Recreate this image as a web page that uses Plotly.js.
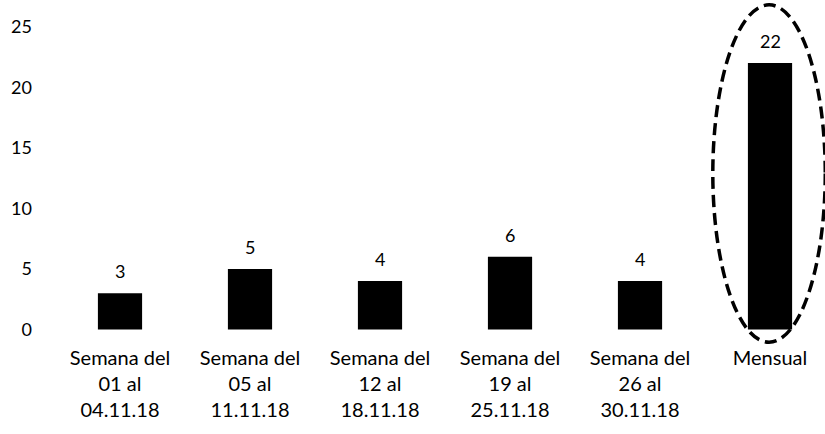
<!DOCTYPE html>
<html>
<head>
<meta charset="utf-8">
<script src="https://cdn.plot.ly/plotly-3.0.1.min.js"></script>
<style>html,body{margin:0;padding:0;background:#fff;}#chart{width:825px;height:434px;}</style>
</head>
<body>
<div id="chart"></div>
<script>
const categories = ["Semana del<br>01 al<br>04.11.18", "Semana del<br>05 al<br>11.11.18", "Semana del<br>12 al<br>18.11.18", "Semana del<br>19 al<br>25.11.18", "Semana del<br>26 al<br>30.11.18", "Mensual"];
const values = [3, 5, 4, 6, 4, 22];
const yTicks = [0, 5, 10, 15, 20, 25];

const xIdx = categories.map((c, i) => i);
const font = "Lato, 'Open Sans', sans-serif";

const trace = {
  type: "bar",
  x: xIdx,
  y: values,
  width: 0.34,
  marker: {color: "#000000"},
  hoverinfo: "skip"
};

const annotations = values.map((v, i) => ({
  x: i, y: v, xref: "x", yref: "y",
  text: String(v), showarrow: false,
  yanchor: "bottom", yshift: 9,
  font: {family: font, size: 18, color: "#000"}
}));

const last = values.length - 1;
const layout = {
  width: 825, height: 434,
  margin: {l: 55, r: 0, t: 0, b: 90},
  paper_bgcolor: "#fff", plot_bgcolor: "#fff",
  showlegend: false,
  xaxis: {
    range: [-0.5, 5.423],
    tickvals: xIdx, ticktext: categories,
    showgrid: false, zeroline: false, showline: false, ticks: "",
    tickfont: {family: font, size: 20, color: "#000"},
    fixedrange: true
  },
  yaxis: {
    range: [-1.2, 27.2],
    tickvals: yTicks,
    showgrid: false, zeroline: false, showline: false, ticks: "",
    ticklabelstandoff: 22,
    tickfont: {family: font, size: 18, color: "#000"},
    fixedrange: true
  },
  annotations: annotations,
  shapes: [{
    type: "circle", xref: "x", yref: "y",
    x0: last - 0.44, x1: last + 0.425, y0: -1.05, y1: 26.8,
    line: {color: "#000", width: 3.5, dash: "12px,6px"}
  }]
};

Plotly.newPlot("chart", [trace], layout, {displayModeBar: false, staticPlot: true});
</script>
</body>
</html>
